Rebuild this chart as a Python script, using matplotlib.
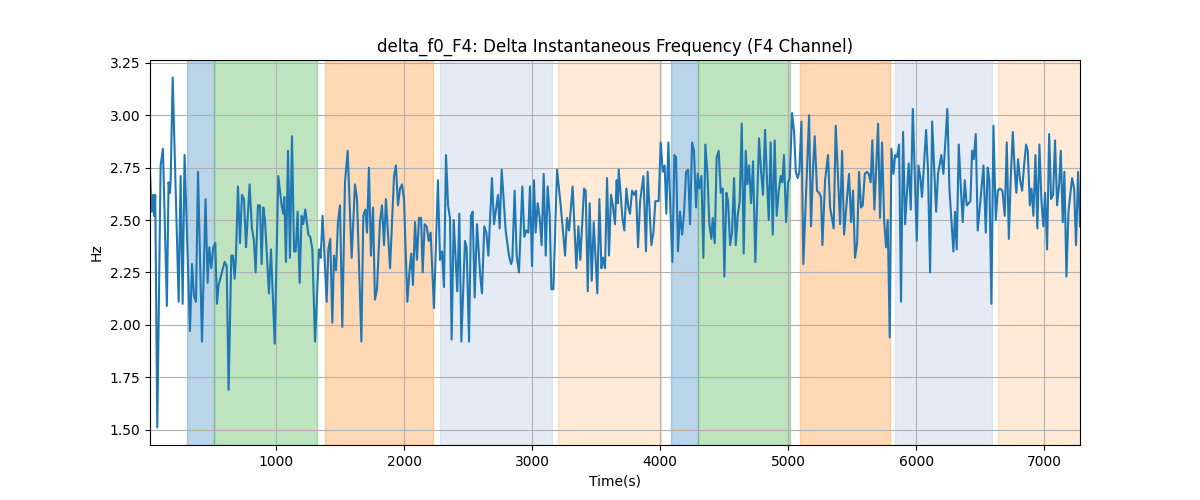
import matplotlib
matplotlib.use("Agg")
import matplotlib.pyplot as plt
import numpy as np

time_s = [16, 28, 39, 47, 57, 73, 99, 117, 148, 161, 172, 177, 193, 240, 255, 271, 286, 328, 344, 359, 375, 391,
          422, 450, 466, 479, 495, 510, 526, 539, 552, 573, 599, 615, 630, 651, 664, 677, 687, 703, 719, 734, 750,
          766, 794, 812, 828, 841, 859, 875, 888, 901, 914, 945, 961, 990, 1018, 1044, 1057, 1065, 1078, 1094,
          1109, 1125, 1141, 1154, 1169, 1185, 1200, 1213, 1229, 1253, 1268, 1284, 1305, 1336, 1349, 1364, 1396,
          1409, 1424, 1440, 1453, 1469, 1484, 1500, 1518, 1539, 1560, 1591, 1617, 1633, 1667, 1682, 1698, 1711,
          1726, 1742, 1758, 1773, 1789, 1812, 1828, 1844, 1859, 1891, 1922, 1937, 1953, 1969, 1984, 2000, 2026,
          2042, 2057, 2070, 2086, 2101, 2117, 2133, 2146, 2161, 2177, 2193, 2208, 2234, 2265, 2281, 2297, 2312,
          2328, 2344, 2359, 2372, 2388, 2416, 2432, 2448, 2476, 2489, 2508, 2523, 2536, 2552, 2570, 2596, 2609,
          2627, 2643, 2659, 2687, 2703, 2734, 2747, 2763, 2794, 2820, 2836, 2846, 2864, 2880, 2898, 2924, 2940,
          2955, 2971, 2984, 3000, 3015, 3028, 3044, 3060, 3075, 3091, 3107, 3122, 3138, 3151, 3167, 3195, 3224,
          3258, 3273, 3289, 3317, 3346, 3362, 3377, 3406, 3419, 3435, 3450, 3466, 3482, 3510, 3526, 3542, 3554,
          3570, 3586, 3601, 3617, 3633, 3648, 3661, 3670, 3677, 3706, 3721, 3737, 3752, 3765, 3781, 3797, 3812,
          3828, 3844, 3870, 3890, 3903, 3932, 3948, 3963, 3979, 3989, 4005, 4021, 4036, 4049, 4065, 4080, 4096,
          4112, 4125, 4140, 4156, 4172, 4187, 4203, 4219, 4234, 4250, 4265, 4281, 4294, 4307, 4323, 4338, 4354,
          4370, 4385, 4401, 4411, 4427, 4442, 4458, 4474, 4489, 4502, 4518, 4531, 4547, 4562, 4578, 4591, 4606,
          4622, 4638, 4653, 4669, 4682, 4695, 4711, 4726, 4744, 4773, 4789, 4804, 4820, 4836, 4849, 4864, 4880,
          4895, 4911, 4927, 4942, 4955, 4968, 4984, 5000, 5013, 5031, 5047, 5060, 5075, 5088, 5104, 5119, 5148,
          5164, 5179, 5195, 5208, 5226, 5242, 5257, 5268, 5289, 5312, 5328, 5356, 5372, 5406, 5422, 5437, 5463,
          5476, 5492, 5507, 5523, 5539, 5554, 5570, 5583, 5599, 5614, 5630, 5645, 5658, 5674, 5703, 5718, 5734,
          5750, 5765, 5778, 5794, 5807, 5823, 5836, 5851, 5867, 5882, 5898, 5914, 5942, 5958, 5974, 6005, 6018,
          6033, 6046, 6078, 6093, 6109, 6125, 6156, 6171, 6197, 6213, 6244, 6260, 6291, 6304, 6317, 6333, 6348,
          6364, 6380, 6395, 6411, 6424, 6437, 6450, 6466, 6481, 6502, 6526, 6544, 6559, 6572, 6588, 6604, 6622,
          6638, 6653, 6674, 6692, 6708, 6724, 6739, 6755, 6770, 6783, 6796, 6812, 6828, 6843, 6859, 6872, 6888,
          6901, 6916, 6932, 6947, 6963, 6979, 6994, 7007, 7023, 7039, 7054, 7070, 7085, 7101, 7117, 7130, 7145,
          7158, 7174, 7190, 7218, 7234, 7249, 7265, 7280]

delta_f0 = [2.73, 2.54, 2.62, 2.52, 2.62, 1.51, 2.76, 2.84, 2.09, 2.68, 2.63, 2.68, 3.18, 2.11, 2.71, 2.10, 2.81, 1.97,
            2.29, 2.14, 2.11, 2.73, 1.92, 2.60, 2.20, 2.37, 2.27, 2.37, 2.39, 2.10, 2.19, 2.24, 2.30, 2.28, 1.69,
            2.33, 2.33, 2.22, 2.32, 2.66, 2.39, 2.62, 2.60, 2.37, 2.67, 2.46, 2.40, 2.25, 2.57, 2.57, 2.29, 2.56,
            2.50, 2.15, 2.36, 1.91, 2.71, 2.57, 2.53, 2.61, 2.30, 2.83, 2.32, 2.90, 2.35, 2.35, 2.54, 2.20, 2.52,
            2.48, 2.55, 2.43, 2.42, 2.36, 1.92, 2.36, 2.32, 2.52, 2.11, 2.36, 2.41, 2.01, 2.33, 2.26, 2.49, 2.57,
            1.99, 2.68, 2.83, 2.32, 2.67, 2.60, 1.92, 2.52, 2.55, 2.44, 2.75, 2.33, 2.56, 2.12, 2.17, 2.49, 2.57,
            2.38, 2.60, 2.27, 2.71, 2.76, 2.57, 2.65, 2.67, 2.60, 2.11, 2.25, 2.34, 2.19, 2.49, 2.31, 2.51, 2.51,
            2.25, 2.48, 2.47, 2.40, 2.44, 2.08, 2.69, 2.31, 2.35, 2.18, 2.81, 2.57, 2.51, 1.93, 2.50, 2.16, 2.53,
            1.92, 2.40, 2.37, 1.92, 2.52, 2.54, 2.13, 2.48, 2.23, 2.15, 2.47, 2.44, 2.33, 2.70, 2.48, 2.62, 2.46,
            2.74, 2.45, 2.33, 2.29, 2.31, 2.64, 2.33, 2.25, 2.66, 2.42, 2.45, 2.44, 2.66, 2.28, 2.69, 2.44, 2.58,
            2.51, 2.38, 2.72, 2.33, 2.66, 2.52, 2.17, 2.17, 2.74, 2.57, 2.33, 2.51, 2.45, 2.66, 2.27, 2.47, 2.31,
            2.65, 2.64, 2.16, 2.58, 2.21, 2.49, 2.15, 2.60, 2.27, 2.32, 2.27, 2.70, 2.33, 2.62, 2.56, 2.48, 2.69,
            2.58, 2.74, 2.51, 2.45, 2.65, 2.56, 2.53, 2.64, 2.62, 2.64, 2.37, 2.59, 2.71, 2.35, 2.73, 2.38, 2.44,
            2.59, 2.59, 2.59, 2.87, 2.73, 2.76, 2.53, 2.87, 2.56, 2.30, 2.81, 2.80, 2.35, 2.54, 2.43, 2.53, 2.73,
            2.74, 2.48, 2.87, 2.83, 2.56, 2.72, 2.65, 2.71, 2.32, 2.86, 2.72, 2.48, 2.41, 2.51, 2.39, 2.80, 2.83,
            2.63, 2.65, 2.23, 2.63, 2.59, 2.38, 2.44, 2.70, 2.38, 2.52, 2.59, 2.96, 2.34, 2.83, 2.67, 2.76, 2.58,
            2.78, 2.30, 2.89, 2.73, 2.62, 2.93, 2.68, 2.50, 2.87, 2.43, 2.88, 2.52, 2.64, 2.71, 2.68, 2.81, 2.49,
            2.68, 2.70, 3.01, 2.92, 2.73, 2.70, 2.73, 2.97, 2.29, 2.75, 3.00, 2.47, 2.75, 2.90, 2.64, 2.63, 2.61,
            2.38, 2.69, 2.81, 2.56, 2.46, 2.95, 2.48, 2.83, 2.43, 2.62, 2.72, 2.49, 2.64, 2.32, 2.39, 2.73, 2.56,
            2.57, 2.72, 2.73, 2.72, 2.68, 2.88, 2.55, 2.96, 2.51, 2.87, 2.50, 2.37, 2.50, 1.94, 2.84, 2.72, 2.81,
            2.80, 2.86, 2.11, 2.92, 2.48, 2.77, 2.55, 3.03, 2.40, 2.76, 2.70, 2.61, 2.93, 2.73, 2.25, 2.97, 2.54,
            2.72, 2.81, 2.72, 3.03, 2.65, 2.35, 2.54, 2.36, 2.86, 2.67, 2.49, 2.69, 2.57, 2.58, 2.59, 2.83, 2.79,
            2.91, 2.45, 2.59, 2.76, 2.44, 2.75, 2.69, 2.10, 2.95, 2.50, 2.64, 2.65, 2.64, 2.52, 2.87, 2.41, 2.70,
            2.92, 2.74, 2.63, 2.79, 2.69, 2.64, 2.76, 2.86, 2.83, 2.57, 2.65, 2.52, 2.81, 2.46, 2.86, 2.59, 2.47,
            2.63, 2.36, 2.91, 2.60, 2.62, 2.88, 2.57, 2.67, 2.83, 2.49, 2.73, 2.23, 2.54, 2.70, 2.65, 2.38, 2.73,
            2.47]

span_starts = [307, 513, 1383, 2281, 3203, 4086, 4299, 5096, 5833, 6641]
span_ends = [513, 1318, 2224, 3154, 4005, 4299, 5013, 5797, 6594, 7300]
span_colors = ["tab:blue", "tab:green", "tab:orange", "lightsteelblue", "tab:orange",
               "tab:blue", "tab:green", "tab:orange", "lightsteelblue", "tab:orange"]
span_alphas = [0.3, 0.3, 0.3, 0.33, 0.16, 0.3, 0.3, 0.3, 0.33, 0.16]

fig, ax = plt.subplots(figsize=(12, 5), dpi=100)
for s, e, c, a in zip(span_starts, span_ends, span_colors, span_alphas):
    ax.axvspan(s, e, color=c, alpha=a)
ax.plot(time_s, delta_f0, color="tab:blue", linewidth=1.5)
ax.set_xlim(time_s[0], time_s[-1])
ax.set_title("delta_f0_F4: Delta Instantaneous Frequency (F4 Channel)")
ax.set_xlabel("Time(s)")
ax.set_ylabel("Hz")
ax.grid(True)
fig.savefig("out.png")
